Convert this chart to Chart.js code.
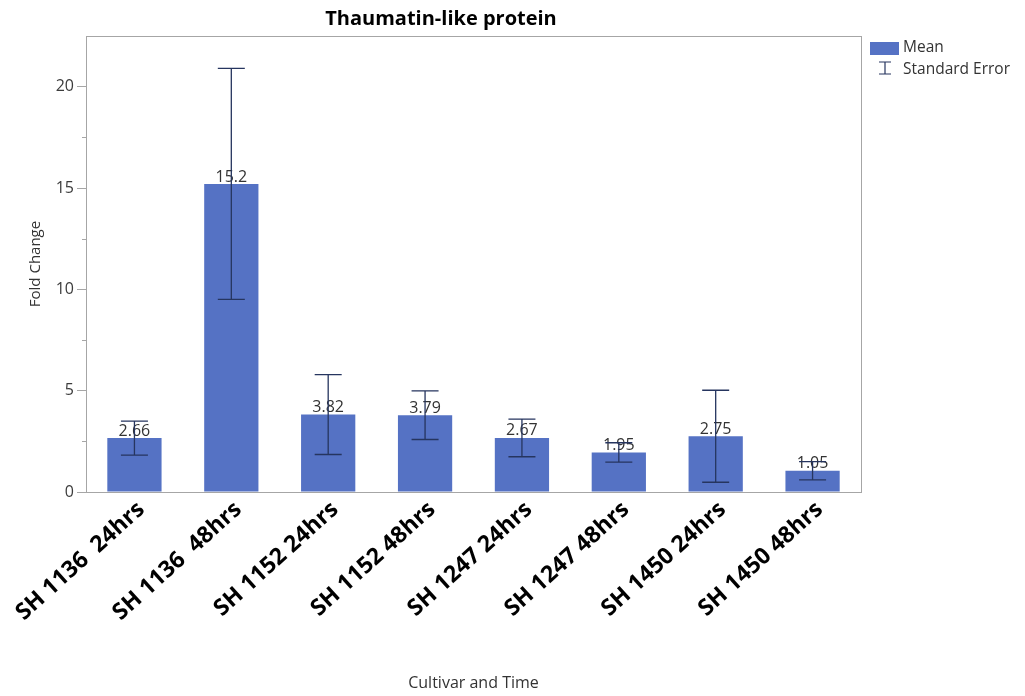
<!DOCTYPE html>
<html>
<head>
<meta charset="utf-8">
<title>Thaumatin-like protein</title>
<script src="https://cdn.jsdelivr.net/npm/chart.js@4.4.0/dist/chart.umd.min.js"></script>
<style>
  html, body { margin: 0; padding: 0; background: #fff; }
</style>
</head>
<body>
<canvas id="fold-chart" width="1025" height="696"></canvas>
<script>
// Fold change per cultivar / time point
const categories = ['SH 1136  24hrs', 'SH 1136  48hrs', 'SH 1152 24hrs', 'SH 1152 48hrs',
                    'SH 1247 24hrs', 'SH 1247 48hrs', 'SH 1450 24hrs', 'SH 1450 48hrs'];
const meanValues = [2.66, 15.2, 3.82, 3.79, 2.67, 1.95, 2.75, 1.05];
const stdErrors = [0.84, 5.7, 1.97, 1.2, 0.93, 0.48, 2.27, 0.45];
const majorTicks = [0, 5, 10, 15, 20];
const minorTicks = [2.5, 7.5, 12.5, 17.5];

const BAR_COLOR = '#5572c4';
const WHISKER_COLOR = '#26355f';
const FRAME_COLOR = '#a6a6a6';
const FONT = '"Open Sans", "Segoe UI", sans-serif';

// whiskers, value labels, frame, title and legend
const decorations = {
    id: 'decorations',
    afterDatasetsDraw(chart) {
        const { ctx, scales: { y } } = chart;
        const bars = chart.getDatasetMeta(0).data;
        ctx.save();

        // value labels sit just above each bar
        ctx.font = '16px ' + FONT;
        ctx.fillStyle = '#333';
        ctx.textAlign = 'center';
        ctx.textBaseline = 'bottom';
        bars.forEach((bar, i) => {
            ctx.fillText(String(meanValues[i]), bar.x, bar.y + 1);
        });

        // standard error whiskers drawn over the labels
        ctx.strokeStyle = WHISKER_COLOR;
        ctx.lineWidth = 1.3;
        bars.forEach((bar, i) => {
            const top = y.getPixelForValue(meanValues[i] + stdErrors[i]);
            const bottom = y.getPixelForValue(meanValues[i] - stdErrors[i]);
            const cap = 13.5;
            ctx.beginPath();
            ctx.moveTo(bar.x, top);
            ctx.lineTo(bar.x, bottom);
            ctx.moveTo(bar.x - cap, top);
            ctx.lineTo(bar.x + cap, top);
            ctx.moveTo(bar.x - cap, bottom);
            ctx.lineTo(bar.x + cap, bottom);
            ctx.stroke();
        });
        ctx.restore();
    },
    afterDraw(chart) {
        const { ctx, chartArea: area, scales: { y } } = chart;
        ctx.save();

        // frame around the plot
        ctx.strokeStyle = FRAME_COLOR;
        ctx.lineWidth = 1;
        ctx.strokeRect(Math.round(area.left) + 0.5, Math.round(area.top) + 0.5,
                       Math.round(area.right - area.left), Math.round(area.bottom - area.top));

        // short minor ticks on the value axis
        ctx.beginPath();
        minorTicks.forEach(v => {
            const py = Math.round(y.getPixelForValue(v)) + 0.5;
            ctx.moveTo(area.left - 4, py);
            ctx.lineTo(area.left, py);
        });
        ctx.stroke();

        // title
        ctx.fillStyle = '#000';
        ctx.font = 'bold 20px ' + FONT;
        ctx.textAlign = 'center';
        ctx.textBaseline = 'middle';
        ctx.fillText('Thaumatin-like protein', 441, 19);

        // legend
        const lx = 870;
        ctx.fillStyle = BAR_COLOR;
        ctx.fillRect(lx, 42, 29, 13);
        ctx.strokeStyle = WHISKER_COLOR;
        ctx.lineWidth = 1.2;
        ctx.beginPath();
        ctx.moveTo(lx + 9, 62); ctx.lineTo(lx + 21, 62);
        ctx.moveTo(lx + 15, 62); ctx.lineTo(lx + 15, 74);
        ctx.moveTo(lx + 9, 74); ctx.lineTo(lx + 21, 74);
        ctx.stroke();
        ctx.fillStyle = '#333';
        ctx.font = '15.5px ' + FONT;
        ctx.textAlign = 'left';
        ctx.fillText(chart.data.datasets[0].label, lx + 33, 48);
        ctx.fillText('Standard Error', lx + 33, 70);
        ctx.restore();
    }
};

const ctx = document.getElementById('fold-chart').getContext('2d');
const chart = new Chart(ctx, {
    type: 'bar',
    data: {
        labels: categories,
        datasets: [{
            label: 'Mean',
            data: meanValues,
            backgroundColor: BAR_COLOR,
            barPercentage: 0.56,
            categoryPercentage: 1.0
        }]
    },
    options: {
        responsive: false,
        animation: false,
        layout: { padding: { top: 36, right: 164, left: 0, bottom: 0 } },
        plugins: {
            legend: { display: false },
            tooltip: { enabled: false }
        },
        scales: {
            x: {
                afterFit: scale => { scale.height = 204; },
                grid: { display: false },
                border: { display: false },
                ticks: {
                    autoSkip: false,
                    maxRotation: 42,
                    minRotation: 42,
                    padding: -4,
                    labelOffset: 7,
                    color: '#000',
                    font: { family: FONT, size: 23, weight: 'bold' }
                },
                title: {
                    display: true,
                    text: 'Cultivar and Time',
                    color: '#333',
                    font: { family: FONT, size: 16 },
                    padding: { bottom: 3 }
                }
            },
            y: {
                min: 0,
                max: 22.5,
                afterFit: scale => { scale.width = 86; },
                border: { display: false },
                grid: {
                    drawOnChartArea: false,
                    tickLength: 9,
                    tickColor: c => majorTicks.includes(c.tick.value) ? FRAME_COLOR : 'transparent'
                },
                ticks: {
                    stepSize: 2.5,
                    padding: 3,
                    color: '#3c3c3c',
                    font: { family: FONT, size: 16 },
                    callback: v => majorTicks.includes(v) ? String(v) : ''
                },
                title: {
                    display: true,
                    text: 'Fold Change',
                    color: '#333',
                    font: { family: FONT, size: 15 },
                    padding: { top: 27 }
                }
            }
        }
    },
    plugins: [decorations]
});
</script>
</body>
</html>
